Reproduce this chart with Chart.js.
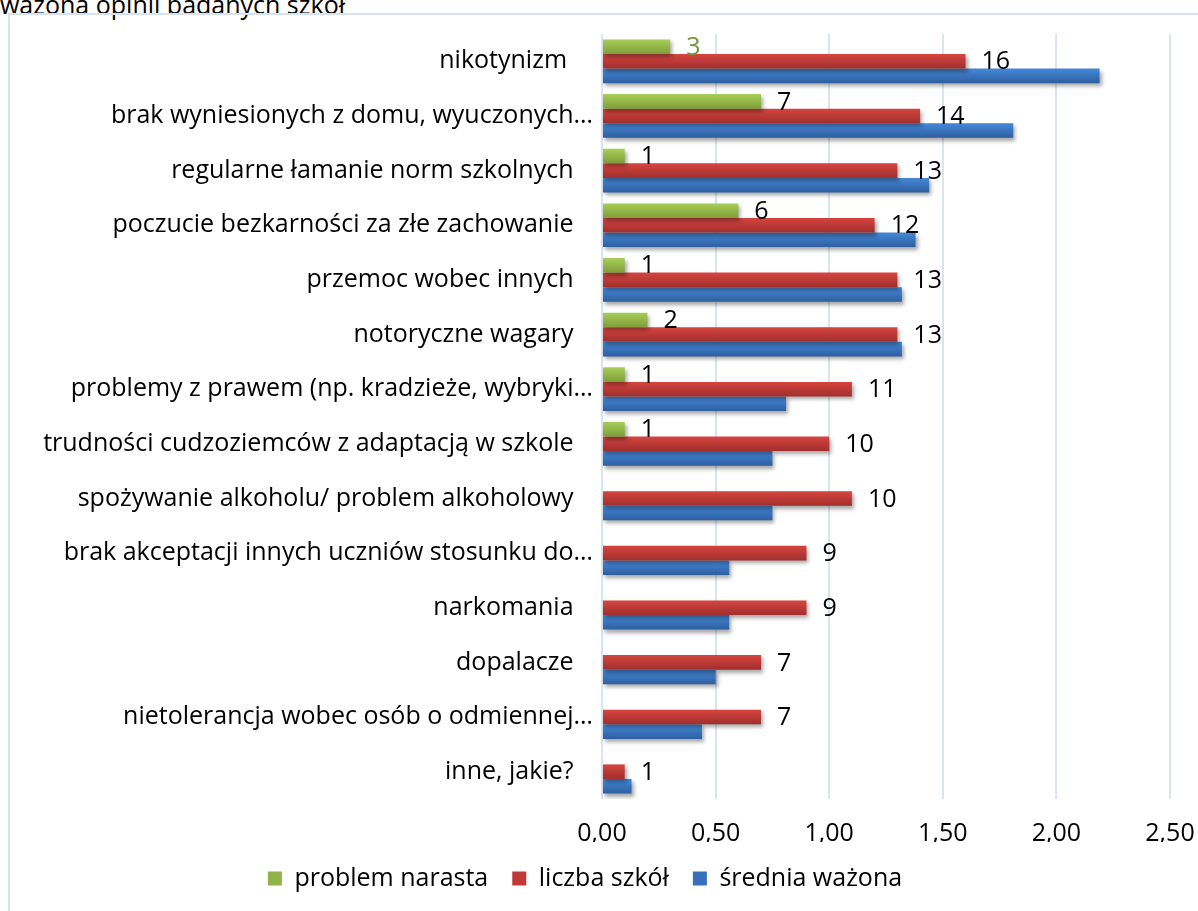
<!DOCTYPE html>
<html lang="pl">
<head>
<meta charset="utf-8">
<title>Problemy wychowawcze</title>
<script src="https://cdn.jsdelivr.net/npm/chart.js@4.4.1/dist/chart.umd.min.js"></script>
<style>
  html, body { margin: 0; padding: 0; background: #fff; overflow: hidden; }
  #title { position: absolute; left: 0; top: -11px; font: 25px/30px "Open Sans", sans-serif; color: #000; white-space: nowrap; }
  #frame { position: absolute; left: 8px; top: 13px; width: 1300px; height: 1000px; border-left: 2px solid #d6e2f2; border-top: 2px solid #d6e2f2; }
  #wrap { position: absolute; left: 0; top: 0; width: 1198px; height: 911px; }
</style>
</head>
<body>
<div id="title">ważona opinii badanych szkół</div>
<div id="frame"></div>
<div id="wrap"><canvas id="chart" width="1198" height="911"></canvas></div>
<script>
"use strict";

// kategorie (oś Y)
const categories = [
  'nikotynizm ',
  'brak wyniesionych z domu, wyuczonych…',
  'regularne łamanie norm szkolnych',
  'poczucie bezkarności za złe zachowanie',
  'przemoc wobec innych',
  'notoryczne wagary',
  'problemy z prawem (np. kradzieże, wybryki…',
  'trudności cudzoziemców z adaptacją w szkole',
  'spożywanie alkoholu/ problem alkoholowy',
  'brak akceptacji innych uczniów stosunku do…',
  'narkomania',
  'dopalacze',
  'nietolerancja wobec osób o odmiennej…',
  'inne, jakie?'
];

// długości słupków
const problemNarasta = [0.3, 0.7, 0.1, 0.6, 0.1, 0.2, 0.1, 0.1, null, null, null, null, null, null];
const liczbaSzkol = [1.6, 1.4, 1.3, 1.2, 1.3, 1.3, 1.1, 1.0, 1.1, 0.9, 0.9, 0.7, 0.7, 0.1];
const sredniaWazona = [2.19, 1.81, 1.44, 1.38, 1.32, 1.32, 0.81, 0.75, 0.75, 0.56, 0.56, 0.50, 0.44, 0.13];

// etykiety danych
const problemNarastaLabels = [3, 7, 1, 6, 1, 2, 1, 1, null, null, null, null, null, null];
const liczbaSzkolLabels = [16, 14, 13, 12, 13, 13, 11, 10, 10, 9, 9, 7, 7, 1];

const xTicks = [0, 0.5, 1, 1.5, 2, 2.5];

const FONT = '"Open Sans", sans-serif';
const FS = 25;

// kolory gradientu (góra, dół)
const gradients = [
  ['#a8ce58', '#7e9e39'],
  ['#d6443f', '#a02f2c'],
  ['#4488d8', '#2e5fa0']
];

// gradient + cień słupków
const barStyle = {
  id: 'barStyle',
  beforeDatasetDraw(chart, args) {
    const ctx = chart.ctx;
    const cols = gradients[args.index];
    args.meta.data.forEach(el => {
      const top = el.y - el.height / 2;
      const g = ctx.createLinearGradient(0, top, 0, top + el.height);
      g.addColorStop(0, cols[0]);
      g.addColorStop(1, cols[1]);
      el.options = Object.assign({}, el.options, { backgroundColor: g });
    });
    ctx.save();
    ctx.shadowColor = 'rgba(0,0,0,0.35)';
    ctx.shadowBlur = 4;
    ctx.shadowOffsetX = 2;
    ctx.shadowOffsetY = 3;
  },
  afterDatasetDraw(chart) {
    chart.ctx.restore();
  }
};

// etykiety liczbowe przy słupkach
const valueLabels = {
  id: 'valueLabels',
  afterDatasetsDraw(chart) {
    const ctx = chart.ctx;
    const sets = [problemNarastaLabels, liczbaSzkolLabels];
    ctx.save();
    ctx.font = FS + 'px ' + FONT;
    ctx.textAlign = 'left';
    ctx.textBaseline = 'middle';
    sets.forEach((labels, di) => {
      const meta = chart.getDatasetMeta(di);
      meta.data.forEach((el, i) => {
        if (labels[i] == null) return;
        ctx.fillStyle = (di === 0 && i === 0) ? '#77933c' : '#000';
        ctx.fillText(String(labels[i]), el.x + 16, el.y + 1);
      });
    });
    ctx.restore();
  }
};

new Chart(document.getElementById('chart'), {
  type: 'bar',
  data: {
    labels: categories,
    datasets: [
      { label: 'problem narasta', data: problemNarasta, backgroundColor: '#8fb348' },
      { label: 'liczba szkół', data: liczbaSzkol, backgroundColor: '#bf3936' },
      { label: 'średnia ważona', data: sredniaWazona, backgroundColor: '#386fba' }
    ]
  },
  options: {
    indexAxis: 'y',
    responsive: false,
    animation: false,
    categoryPercentage: 0.8,
    barPercentage: 1,
    layout: { padding: { top: 34, right: 28, bottom: 10, left: 0 } },
    scales: {
      x: {
        min: 0,
        max: 2.5,
        afterBuildTicks: s => { s.ticks = xTicks.map(v => ({ value: v })); },
        ticks: {
          callback: v => Number(v).toFixed(2).replace('.', ','),
          font: { family: FONT, size: FS },
          color: '#000',
          padding: 20
        },
        grid: { color: '#d9e4f3', lineWidth: 2, drawTicks: false },
        border: { display: false },
        afterFit: s => { s.height = 43; s.paddingRight = 0; }
      },
      y: {
        grid: { display: false, drawTicks: false },
        border: { display: false },
        ticks: {
          callback: function (v) {
            const t = this.getLabelForValue(v);
            return t.endsWith('…') ? t : t + '   ';
          },
          font: { family: FONT, size: FS },
          color: '#000',
          padding: 9
        },
        afterFit: s => { s.width = 602; }
      }
    },
    plugins: {
      legend: {
        position: 'bottom',
        labels: {
          font: { family: FONT, size: FS },
          color: '#000',
          boxWidth: 14,
          boxHeight: 14,
          padding: 24
        }
      },
      tooltip: { enabled: false }
    }
  },
  plugins: [barStyle, valueLabels]
});
</script>
</body>
</html>
